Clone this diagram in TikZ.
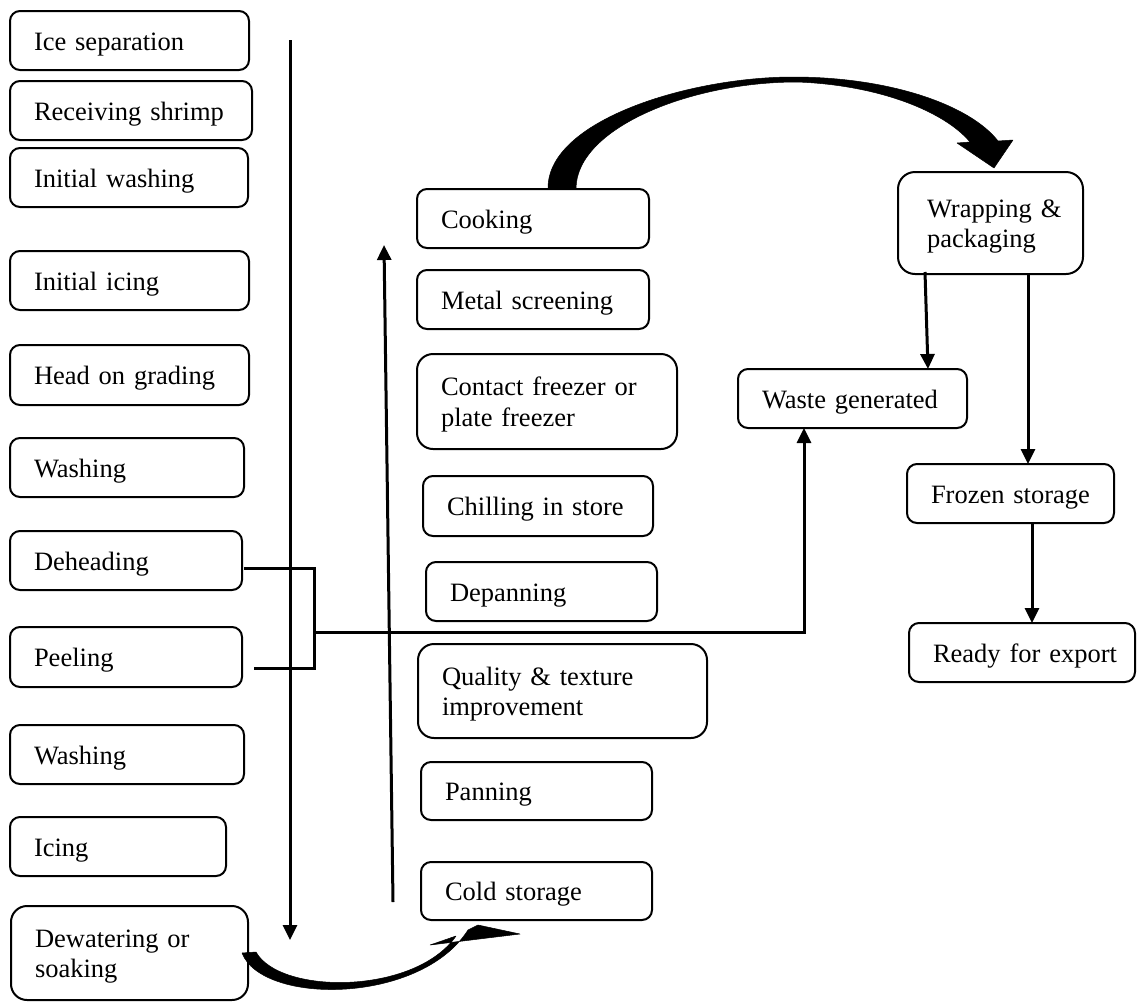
\documentclass[tikz,border=0pt]{standalone}
\usepackage{fontspec}
\setmainfont{Liberation Serif}
\usetikzlibrary{arrows.meta}
\begin{document}
\begin{tikzpicture}[x=1pt,y=-1pt,
  box/.style={draw, line width=2pt, rounded corners=10pt, anchor=north west,
    inner xsep=24pt, inner ysep=0pt, outer sep=0pt, align=left,
    text height=23pt, text depth=4pt,
    font=\fontsize{26.5}{30.5}\selectfont},
  twoline/.style={text height=23pt, text depth=35pt},
  tallbox/.style={box, twoline, rounded corners=16pt},
  conn/.style={line width=3pt},
  arr/.style={conn, -{Triangle[length=15pt,width=14pt]}},
  bigarrow/.style={fill=black, draw=black, line width=0.5pt, line join=round}]
\useasboundingbox (0,0) rectangle (1137,1002);

% left column
\node[box, text width=191pt, minimum height=59pt] (ice)     at (10,11)  {\mbox{Ice separation}};
\node[box, text width=194pt, minimum height=59pt] (recv)    at (10,81)  {\mbox{Receiving shrimp}};
\node[box, text width=190pt, minimum height=59pt] (iwash)   at (10,148) {\mbox{Initial washing}};
\node[box, text width=191pt, minimum height=59pt] (iicing)  at (10,251) {\mbox{Initial icing}};
\node[box, text width=191pt, minimum height=60pt] (grading) at (10,345) {\mbox{Head on grading}};
\node[box, text width=186pt, minimum height=59pt] (washa)   at (10,438) {\mbox{Washing}};
\node[box, text width=184pt, minimum height=59pt] (dehead)  at (10,531) {\mbox{Deheading}};
\node[box, text width=184pt, minimum height=60pt] (peel)    at (10,627) {\mbox{Peeling}};
\node[box, text width=186pt, minimum height=59pt] (washb)   at (10,725) {\mbox{Washing}};
\node[box, text width=168pt, minimum height=59pt] (icing)   at (10,817) {\mbox{Icing}};
\node[tallbox, text width=189pt, minimum height=94pt] (dewater) at (11,906) {\mbox{Dewatering or}\\\mbox{soaking}};

% middle column
\node[box, text width=184pt, minimum height=59pt] (cook)    at (417,189) {\mbox{Cooking}};
\node[box, text width=184pt, minimum height=59pt] (metal)   at (417,270) {\mbox{Metal screening}};
\node[tallbox, text width=212pt, minimum height=95pt] (contact) at (417,354) {\mbox{Contact freezer or}\\\mbox{plate freezer}};
\node[box, text width=182pt, minimum height=60pt] (chill)   at (423,476) {\mbox{Chilling in store}};
\node[box, text width=183pt, minimum height=59pt] (depan)   at (426,562) {\mbox{Depanning}};
\node[tallbox, text width=241pt, minimum height=94pt] (quality) at (418,644) {\mbox{Quality \& texture}\\\mbox{improvement}};
\node[box, text width=183pt, minimum height=58pt] (pan)     at (421,762) {\mbox{Panning}};
\node[box, text width=183pt, minimum height=58pt] (cold)    at (421,862) {\mbox{Cold storage}};

% right part
\node[box, twoline, rounded corners=17pt, text width=137pt, minimum height=102pt] (wrap) at (898,172)
  {\hspace*{5pt}\mbox{Wrapping \&}\\\hspace*{5pt}\mbox{packaging}};
\node[box, text width=181pt, minimum height=59pt] (waste)  at (738,369) {\mbox{Waste generated}};
\node[box, text width=159pt, minimum height=59pt] (frozen) at (907,464) {\mbox{Frozen storage}};
\node[box, text width=178pt, minimum height=59pt] (ready)  at (909,623) {\mbox{Ready for export}};

% straight flow lines
\coordinate (dtop) at (290,40);
\coordinate (dbot) at (290,940);
\draw[arr] (dtop) -- (dbot);
\coordinate (ubot) at (393,902);
\coordinate (utop) at (384,245);
\draw[arr] (ubot) -- (utop);

% bracket from deheading / peeling to waste
\coordinate (bx) at (314,0);
\coordinate (wx) at (804,0);
\coordinate (pend) at (254,668);
\draw[conn, line join=miter] ([xshift=2pt,yshift=-7.5pt]dehead.east) -- (bx |- {0,568}) -- (bx |- pend) -- (pend);
\draw[arr, line join=miter] (bx |- {0,632}) -- (wx |- {0,632}) -- (wx |- waste.south);

% right arrows
\coordinate (wa1) at (925,0);
\coordinate (wa2) at (928,0);
\draw[arr] ([yshift=2pt]wa1 |- wrap.south) -- (wa2 |- waste.north);
\coordinate (fx) at (1028,0);
\draw[arr] (fx |- wrap.south) -- (fx |- frozen.north);
\coordinate (rx) at (1032,0);
\draw[arr] (rx |- frozen.south) -- (rx |- ready.north);

% big curved arrow: cooking -> wrapping
\fill[bigarrow] (548,188) .. controls (548,120) and (690,77) .. (793,77)
  .. controls (890,77) and (970,105) .. (998,141)
  -- (1013,140) -- (994,168) -- (957,143) -- (970,142)
  .. controls (945,112) and (880,85) .. (797,82)
  .. controls (690,82) and (577,128) .. (576,188) -- cycle;

% curved arrow: dewatering -> cold storage
\fill[bigarrow] (242,953) .. controls (262,1005) and (420,1005) .. (468,930)
  -- (478,925) -- (520,934) -- (430,945) -- (456,936)
  .. controls (415,995) and (280,995) .. (256,952) -- cycle;
\end{tikzpicture}
\end{document}
